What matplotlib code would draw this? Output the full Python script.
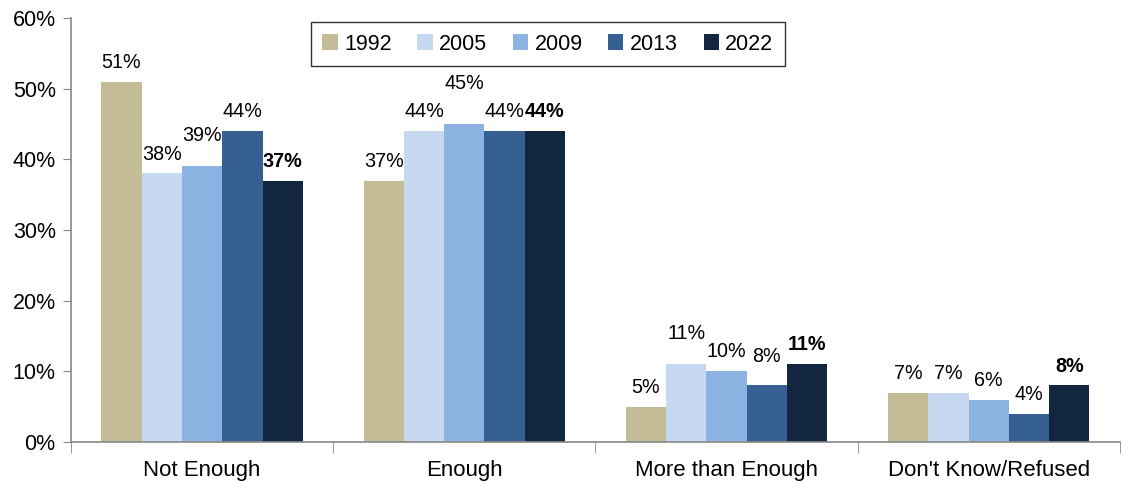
import matplotlib.pyplot as plt
import numpy as np

plt.rcParams['font.family'] = ['Liberation Sans', 'DejaVu Sans']

categories = ["Not Enough", "Enough", "More than Enough", "Don't Know/Refused"]
years = ["1992", "2005", "2009", "2013", "2022"]
values = {
    "1992": [51, 37, 5, 7],
    "2005": [38, 44, 11, 7],
    "2009": [39, 45, 10, 6],
    "2013": [44, 44, 8, 4],
    "2022": [37, 44, 11, 8],
}
colors = ["#C4BC96", "#C6D9F1", "#8DB3E2", "#366092", "#13263F"]

# extra lift (points) for labels that would crowd their neighbours
label_lift = {
    "2005": [0, 0, 8, 0],
    "2009": [8, 15, 0, 0],
    "2013": [0, 0, 7, 0],
}

fig = plt.figure(figsize=(11.22, 4.87), dpi=100)
ax = fig.add_axes([0.0633, 0.0924, 0.9347, 0.8706])

x = np.arange(len(categories))
width = 0.1537
for i, (yr, col) in enumerate(zip(years, colors)):
    pos = x + (i - 2) * width
    ax.bar(pos, values[yr], width, color=col, label=yr, linewidth=0)
    bold = yr == "2022"
    lifts = label_lift.get(yr, [0] * len(categories))
    for px, v, lift in zip(pos, values[yr], lifts):
        ax.annotate(f"{v}%", (px, v), xytext=(0, 14 + lift), textcoords="offset points",
                    ha="center", va="center", fontsize=14.2,
                    fontweight="bold" if bold else "normal")

ax.set_xlim(-0.5, len(categories) - 0.5)
ax.set_ylim(0, 60)
ax.set_yticks(range(0, 61, 10))
ax.set_yticklabels([f"{t}%" for t in range(0, 61, 10)], fontsize=15.5)
ax.set_xticks(x)
ax.set_xticklabels(categories, fontsize=16)
ax.set_xticks(np.arange(-0.5, len(categories)), minor=True)
ax.tick_params(axis="x", which="major", length=0, pad=13)
ax.tick_params(axis="x", which="minor", length=8, color="#888888", direction="out")
ax.tick_params(axis="y", length=6, color="#888888", direction="out", pad=5)

for s in ["top", "right"]:
    ax.spines[s].set_visible(False)
for s in ["left", "bottom"]:
    ax.spines[s].set_color("#888888")
    ax.spines[s].set_linewidth(1.2)

leg = ax.legend(ncol=5, loc="center", bbox_to_anchor=(0.4547, 0.9387), fontsize=15.5,
                frameon=True, fancybox=False, edgecolor="black",
                handlelength=0.7, handleheight=0.7, handletextpad=0.3,
                columnspacing=1.2, borderpad=0.55)
leg.get_frame().set_linewidth(1.0)

fig.savefig("out.png", dpi=100)
